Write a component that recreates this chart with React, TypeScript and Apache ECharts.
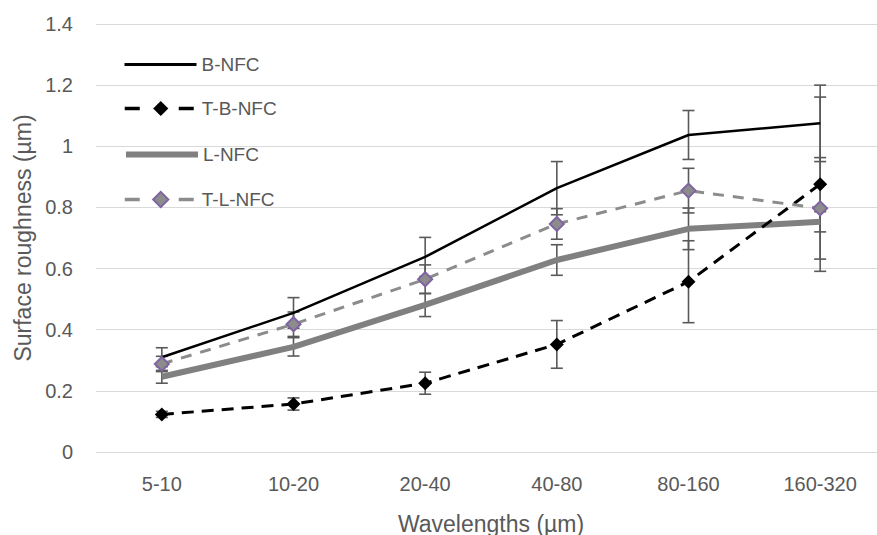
import React, { useEffect, useRef } from "react";
import * as echarts from "echarts";

const categories = ["5-10", "10-20", "20-40", "40-80", "80-160", "160-320"];
const seriesNames = ["B-NFC", "T-B-NFC", "L-NFC", "T-L-NFC"];
const bNfc = [0.31, 0.455, 0.638, 0.863, 1.037, 1.075];
const bNfcErr = [0.031, 0.05, 0.064, 0.087, 0.08, 0.125];
const tbNfc = [0.123, 0.157, 0.225, 0.352, 0.557, 0.876];
const tbNfcErr = [0.01, 0.02, 0.036, 0.078, 0.134, 0.285];
const lNfc = [0.246, 0.344, 0.481, 0.628, 0.73, 0.753];
const lNfcErr = [0.021, 0.03, 0.038, 0.05, 0.068, 0.033];
const tlNfc = [0.288, 0.418, 0.565, 0.746, 0.855, 0.797];
const tlNfcErr = [0.025, 0.04, 0.047, 0.05, 0.073, 0.166];

const FONT = "Liberation Sans";
const TXT = "#595959";

function errSeries(name: string, vals: number[], errs: number[]) {
  return {
    type: "custom",
    name: name + " err",
    z: 1,
    data: vals.map((v, i) => [i, v - errs[i], v + errs[i]]),
    encode: { x: 0, y: [1, 2] },
    renderItem: (params: any, api: any) => {
      const i = api.value(0);
      const lo = api.coord([i, api.value(1)]);
      const hi = api.coord([i, api.value(2)]);
      const hw = 6;
      const style = { stroke: "#595959", lineWidth: 1.6 };
      return {
        type: "group",
        children: [
          { type: "line", shape: { x1: lo[0], y1: lo[1], x2: hi[0], y2: hi[1] }, style },
          { type: "line", shape: { x1: lo[0] - hw, y1: lo[1], x2: lo[0] + hw, y2: lo[1] }, style },
          { type: "line", shape: { x1: hi[0] - hw, y1: hi[1], x2: hi[0] + hw, y2: hi[1] }, style },
        ],
      };
    },
  };
}

const legendTops = [55, 99, 145, 190];
const legendItemStyle: any[] = [{ opacity: 0 }, {}, { opacity: 0 }, {}];
const legendLineStyle: any[] = [
  { width: 3, type: "solid" },
  { width: 3.5, type: [15, 39] },
  { width: 6, type: "solid" },
  { width: 3.5, type: [15, 39] },
];

export default function App() {
  const ref = useRef<HTMLDivElement>(null);
  useEffect(() => {
    const chart = echarts.init(ref.current!, null, { renderer: "svg" });
    chart.setOption({
      animation: false,
      textStyle: { fontFamily: FONT },
      grid: {
        left: 96,
        top: 24,
        width: 790,
        height: 428,
        containLabel: false,
        outerBoundsMode: "none",
      },
      legend: seriesNames.map((n, k) => ({
        data: [{ name: n, itemStyle: legendItemStyle[k] }],
        orient: "vertical",
        left: 123,
        top: legendTops[k],
        itemWidth: 72,
        itemHeight: 19,
        padding: 0,
        lineStyle: legendLineStyle[k],
        textStyle: { color: TXT, fontSize: 19, fontFamily: FONT },
      })),
      xAxis: {
        type: "category",
        data: categories,
        axisLine: { show: false },
        axisTick: { show: false },
        axisLabel: { color: TXT, fontSize: 20, margin: 22, fontFamily: FONT },
        name: "Wavelengths (µm)",
        nameLocation: "middle",
        nameGap: 60,
        nameTextStyle: { color: TXT, fontSize: 23, fontFamily: FONT },
      },
      yAxis: {
        type: "value",
        min: 0,
        max: 1.4,
        interval: 0.2,
        axisLine: { show: false },
        axisTick: { show: false },
        splitLine: { lineStyle: { color: "#d9d9d9", width: 1 } },
        axisLabel: { color: TXT, fontSize: 20, margin: 23, fontFamily: FONT },
        name: "Surface roughness (µm)",
        nameLocation: "middle",
        nameGap: 62,
        nameTextStyle: { color: TXT, fontSize: 23, fontFamily: FONT },
      },
      series: [
        errSeries("B-NFC", bNfc, bNfcErr),
        errSeries("T-B-NFC", tbNfc, tbNfcErr),
        errSeries("L-NFC", lNfc, lNfcErr),
        errSeries("T-L-NFC", tlNfc, tlNfcErr),
        {
          name: "B-NFC",
          type: "line",
          data: bNfc,
          symbol: "none",
          z: 3,
          lineStyle: { color: "#000000", width: 2.5 },
          itemStyle: { color: "#000000" },
        },
        {
          name: "T-B-NFC",
          type: "line",
          data: tbNfc,
          symbol: "diamond",
          symbolSize: 14,
          z: 3,
          lineStyle: { color: "#000000", width: 3, type: [12, 8] },
          itemStyle: { color: "#000000" },
        },
        {
          name: "L-NFC",
          type: "line",
          data: lNfc,
          symbol: "none",
          z: 2,
          lineStyle: { color: "#808080", width: 6 },
          itemStyle: { color: "#808080" },
        },
        {
          name: "T-L-NFC",
          type: "line",
          data: tlNfc,
          symbol: "diamond",
          symbolSize: 14,
          z: 3,
          lineStyle: { color: "#8c8c8c", width: 3, type: [11, 9] },
          itemStyle: { color: "#8c8c8c", borderColor: "#8064a2", borderWidth: 2 },
        },
      ],
    });
    return () => chart.dispose();
  }, []);
  return (
    <div
      ref={ref}
      style={{ position: "fixed", left: 0, top: 0, width: 877, height: 535, background: "#fff" }}
    />
  );
}
